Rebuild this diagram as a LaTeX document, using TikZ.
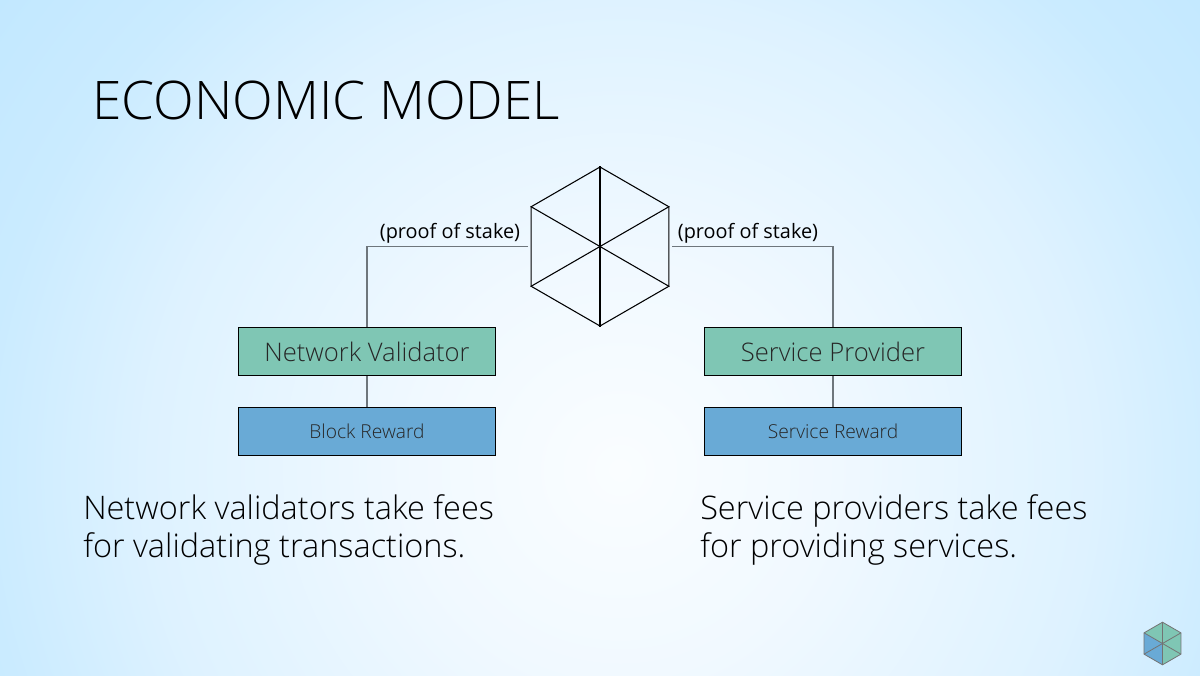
\documentclass[tikz,border=0pt]{standalone}
\usepackage{fontspec}
\setmainfont{Open Sans Light}
\newfontfamily\labelfont{Open Sans}
\usetikzlibrary{calc,shapes.geometric}

\definecolor{boxgreen}{RGB}{127,198,180}
\definecolor{boxblue}{RGB}{105,170,214}
\definecolor{wirecol}{RGB}{110,118,124}
\definecolor{bgzero}{RGB}{250,253,255}
\definecolor{bgone}{RGB}{241,249,255}
\definecolor{bgtwo}{RGB}{222,242,255}
\definecolor{bgthree}{RGB}{202,235,255}
\definecolor{bgfour}{RGB}{194,232,255}
\pgfdeclareradialshading{slidebg}{\pgfpoint{0bp}{0bp}}{
    color(0bp)=(bgzero);
    color(7.3bp)=(bgone);
    color(16.8bp)=(bgtwo);
    color(22.85bp)=(bgthree);
    color(27.85bp)=(bgfour);
    color(100bp)=(bgfour)
}

\tikzset{
    hexnode/.style={regular polygon, regular polygon sides=6, inner sep=0pt, draw=black, line width=0.8pt},
    modelbox/.style={draw=black, line width=0.6pt, minimum width=193pt, minimum height=36.5pt, inner sep=0pt, text=black!85},
    wire/.style={draw=wirecol, line width=1.1pt},
    staketext/.style={font=\labelfont\fontsize{14.9}{15}\selectfont, anchor=base, text=black},
    bodytext/.style={font=\fontsize{24.35}{28.5}\selectfont, anchor=north west, align=left, inner sep=0pt, text=black},
}

\begin{document}
\begin{tikzpicture}[x=0.75pt, y=-0.75pt]
    \useasboundingbox (0,0) rectangle (1200,675);
    \begin{scope}
        \clip (0,0) rectangle (1200,675);
        \shade[shading=slidebg] (-80,-230) rectangle (1320,1170);
    \end{scope}

    \node[anchor=base west, inner sep=0pt, font=\fontsize{39.9}{40}\selectfont](title) at (92,119){ECONOMIC MODEL};

    \node[hexnode, minimum size=119.25pt, shape border rotate=30](hub) at (600,246.5){};
    \foreach \a/\b in {1/4, 2/5, 3/6}{
        \draw[line width=0.8pt, black](hub.corner \a)--(hub.corner \b);
    }

    \node[modelbox, fill=boxgreen, font=\fontsize{19.2}{20}\selectfont](nv) at (367,351.5){Network Validator};
    \node[modelbox, fill=boxblue, font=\fontsize{14.4}{15}\selectfont](br) at (367,431.5){Block Reward};
    \node[modelbox, fill=boxgreen, font=\fontsize{19.2}{20}\selectfont](sp) at (833,351.5){Service Provider};
    \node[modelbox, fill=boxblue, font=\fontsize{14.4}{15}\selectfont](sr) at (833,431.5){Service Reward};

    \coordinate (hl) at (528,246.5);
    \coordinate (hr) at (672,246.5);

    \draw[wire](hl)-|(nv.north);
    \draw[wire](hr)-|(sp.north);
    \draw[wire](nv)--(br);
    \draw[wire](sp)--(sr);

    \node[staketext](pl) at (450,238){(proof of stake)};
    \node[staketext](pr) at (748,238){(proof of stake)};

    \node[bodytext](tl) at (83,494){Network validators take fees\\for validating transactions.};
    \node[bodytext](tr) at (700,494){Service providers take fees\\for providing services.};

    % corner logo
    \node[regular polygon, regular polygon sides=6, inner sep=0pt, minimum size=31.5pt, shape border rotate=30](logo) at (1162.5,643.5){};
    \foreach \a/\b/\c in {1/2/boxgreen, 2/3/boxblue, 3/4/boxblue, 4/5/boxgreen, 5/6/boxgreen, 6/1/boxgreen}{
        \fill[\c](logo.center)--(logo.corner \a)--(logo.corner \b)--cycle;
    }
    \draw[black!55, line width=0.6pt](logo.corner 1)--(logo.corner 2)--(logo.corner 3)--(logo.corner 4)--(logo.corner 5)--(logo.corner 6)--cycle;
    \foreach \a/\b in {1/4, 2/5, 3/6}{
        \draw[black!55, line width=0.6pt](logo.corner \a)--(logo.corner \b);
    }
\end{tikzpicture}
\end{document}
